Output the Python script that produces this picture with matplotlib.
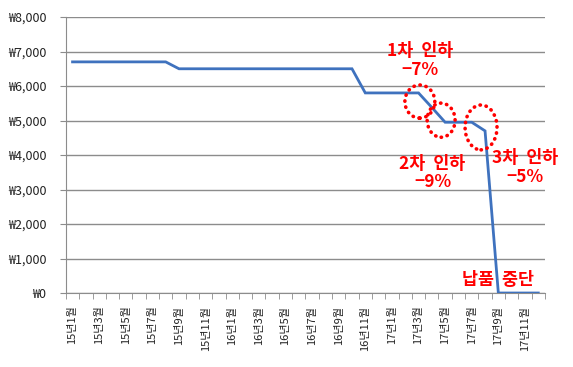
import matplotlib
matplotlib.use("Agg")
import matplotlib.pyplot as plt
from matplotlib.patches import Ellipse
from matplotlib.ticker import FuncFormatter, FixedLocator

plt.rcParams['font.family'] = ['Noto Sans CJK KR', 'DejaVu Sans']

# monthly price, 15년1월 .. 17년12월
months = [f"{y}년{m}월" for y in (15, 16, 17) for m in range(1, 13)]
price = [6700] * 8 + [6500] * 14 + [5800] * 5 + [5380] + [4950] * 3 + [4700] + [0] * 4

notes = ["1차  인하\n\u22127%", "2차  인하\n\u22129%", "3차  인하\n\u22125%", "납품  중단"]
note_pos = [(26.1, 6740), (27.05, 3480), (34.0, 3640), (32.0, 390)]
circle_pos = [(26.1, 5550), (27.7, 5010), (30.7, 4800)]
circle_w = [2.25, 2.1, 2.4]
circle_h = [960, 990, 1300]

fig = plt.figure(figsize=(5.73, 3.67), dpi=100)
ax = fig.add_axes([0.115, 0.2016, 0.836, 0.752])

x = list(range(len(months)))
ax.plot(x, price, color='#3F72BE', lw=2.0, solid_joinstyle='miter', zorder=3)

ax.set_xlim(-0.5, len(months) - 0.5)
ax.set_ylim(0, 8000)
ax.set_yticks(range(0, 8001, 1000))
ax.yaxis.set_major_formatter(FuncFormatter(lambda v, p: f"\u20a9{int(v):,}"))
ax.grid(axis='y', color='#8c8c8c', lw=1.0)
ax.set_axisbelow(True)

ax.set_xticks(x[::2])
ax.set_xticklabels(months[::2], rotation=90, fontsize=8, color='#222222')
ax.xaxis.set_minor_locator(FixedLocator([i - 0.5 for i in range(len(months) + 1)]))
ax.tick_params(axis='x', which='major', length=0, pad=9)
ax.tick_params(axis='x', which='minor', length=4, color='#8c8c8c')
ax.tick_params(axis='y', length=4, color='#8c8c8c', labelsize=9, labelcolor='#222222', pad=10)

for s in ('top', 'right'):
    ax.spines[s].set_visible(False)
for s in ('left', 'bottom'):
    ax.spines[s].set_color('#8c8c8c')

for (cx, cy), w, h in zip(circle_pos, circle_w, circle_h):
    ax.add_patch(Ellipse((cx, cy), w, h, fill=False, ec='#FF0000', lw=2.6,
                         ls=(0, (0.1, 1.6)), capstyle='round', zorder=4))

for t, (tx, ty) in zip(notes, note_pos):
    ax.text(tx, ty, t, ha='center', va='center', color='#FF0000', fontsize=12.5,
            fontweight='bold', linespacing=1.05, zorder=5)

fig.savefig("out.png", dpi=100)
